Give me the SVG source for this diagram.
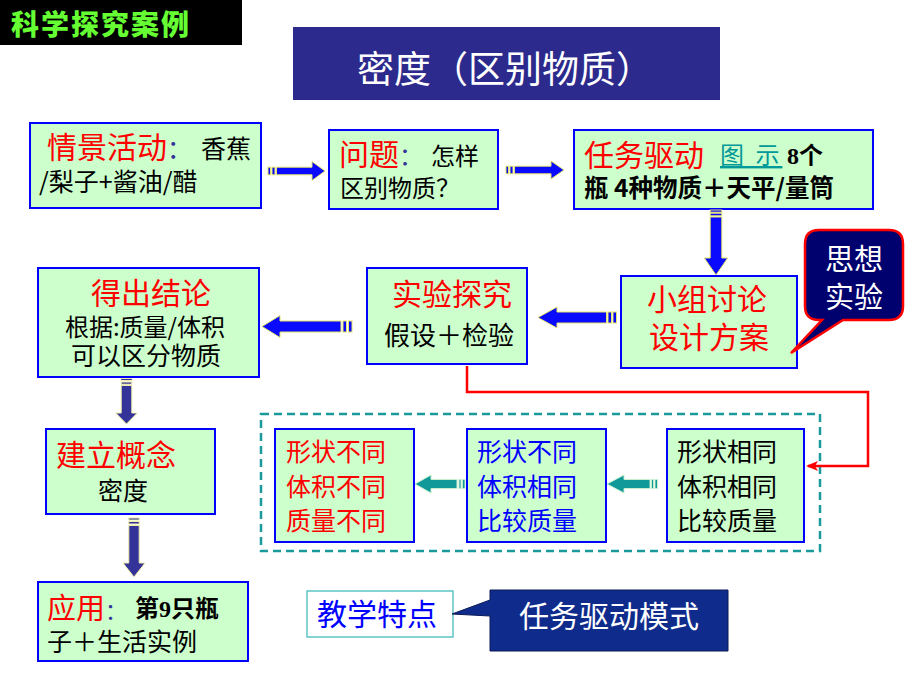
<svg xmlns="http://www.w3.org/2000/svg" width="920" height="690" viewBox="0 0 920 690">
<defs>
<style>
text { font-family: "Noto Sans CJK SC", "Noto Sans", sans-serif; }
.box { fill:#ccffcc; stroke:#0000ff; stroke-width:2; }
.red { fill:#ff0000; }
.blk { fill:#000000; }
.nav { fill:#333399; }
.wht { fill:#ffffff; }
.h30 { font-size:30px; }
.b25 { font-size:25px; }
.bold { font-weight:bold; }
.serif { font-family: "Liberation Serif", serif; font-weight:bold; }
.ar-blue { fill:#0a0aff; stroke:#e4e46a; stroke-width:1; }
.ar-navy { fill:#333399; stroke:#eeeeaa; stroke-width:1; }
.ar-teal { fill:#119999; stroke:#c4eecc; stroke-width:1; }
.c { text-anchor:middle; }
</style>
<marker id="redhead" markerUnits="userSpaceOnUse" markerWidth="14" markerHeight="12" viewBox="0 -6 14 12" refX="10" refY="0" orient="auto">
<path d="M0,-5 L12,0 L0,5 L3,0 Z" fill="#ff0000"/>
</marker>
</defs>
<rect width="920" height="690" fill="#ffffff"/>

<g id="badge">
<rect x="0" y="0" width="242" height="45" fill="#000000"/>
<text x="11" y="35" font-size="28" font-weight="900" letter-spacing="2" fill="#66ff33">科学探究案例</text>
</g>

<g id="title">
<rect x="293" y="27" width="427" height="73" fill="#2c2a8c"/>
<text x="357" y="83" font-size="37" class="wht">密度（区别物质）</text>
</g>

<g id="n-scene">
<rect class="box" x="30" y="123" width="231" height="85"/>
<text y="158"><tspan x="47" class="red h30">情景活动</tspan><tspan class="nav b25">：</tspan><tspan x="201" class="blk b25">香蕉</tspan></text>
<text x="39" y="191" class="blk b25">/梨子+酱油/醋</text>
</g>

<g id="n-question">
<rect class="box" x="329" y="130" width="169" height="79"/>
<text y="165"><tspan x="339" class="red h30">问题</tspan><tspan class="nav" font-size="24">：</tspan><tspan x="431" class="blk" font-size="24">怎样</tspan></text>
<text x="340" y="197" class="blk" font-size="24">区别物质？</text>
</g>

<g id="n-task">
<rect class="box" x="574" y="130" width="299" height="79"/>
<text x="584" y="166" class="red h30">任务驱动</text>
<text x="720" y="164" font-size="24" fill="#009999" text-decoration="underline" letter-spacing="3" xml:space="preserve">图 示</text>
<text x="787" y="164" font-size="24" class="blk bold"><tspan class="serif">8</tspan>个</text>
<text x="584" y="197" font-size="24.5" class="blk bold">瓶 4种物质＋天平/量筒</text>
</g>

<g id="n-group">
<rect class="box" x="621" y="276" width="176" height="92"/>
<text x="707" y="310" class="red h30 c">小组讨论</text>
<text x="709" y="348" class="red h30 c">设计方案</text>
</g>

<g id="n-thought">
<path d="M819,230 H889 Q903,230 903,244 V306 Q903,320 889,320 H843 L791,353 L822,320 H819 Q805,320 805,306 V244 Q805,230 819,230 Z" fill="#00006e" stroke="#ff0000" stroke-width="2.5"/>
<text x="854" y="270" font-size="29" class="wht c">思想</text>
<text x="854" y="308" font-size="29" class="wht c">实验</text>
</g>

<g id="n-experiment">
<rect class="box" x="367" y="268" width="160" height="96"/>
<text x="452" y="305" class="red h30 c">实验探究</text>
<text x="449" y="345" font-size="26" class="blk c">假设＋检验</text>
</g>

<g id="n-conclusion">
<rect class="box" x="38" y="268" width="221" height="109"/>
<text x="151" y="304" class="red h30 c">得出结论</text>
<text x="145" y="336" font-size="24" class="blk c">根据:质量/体积</text>
<text x="146" y="365" class="blk b25 c">可以区分物质</text>
</g>

<g id="n-concept">
<rect class="box" x="46" y="429" width="169" height="85"/>
<text x="56" y="466" class="red h30">建立概念</text>
<text x="123" y="500" class="blk b25 c">密度</text>
</g>

<g id="n-apply">
<rect class="box" x="38" y="582" width="210" height="79"/>
<text y="619"><tspan x="47" class="red" font-size="29">应用</tspan><tspan class="nav" font-size="22">：</tspan><tspan x="135" y="617" class="blk bold" font-size="24">第<tspan class="serif">9</tspan>只瓶</tspan></text>
<text x="47" y="651" class="blk b25">子＋生活实例</text>
</g>

<g id="n-compare">
<rect x="261" y="414" width="559" height="137" fill="none" stroke="#1a9a9a" stroke-width="2.5" stroke-dasharray="8 5"/>
</g>

<g id="n-case3">
<rect class="box" x="275" y="429" width="139" height="113"/>
<text x="286" y="461" class="red b25">形状不同</text>
<text x="286" y="496" class="red b25">体积不同</text>
<text x="286" y="530" class="red b25">质量不同</text>
</g>

<g id="n-case2">
<rect class="box" x="467" y="429" width="139" height="113"/>
<text x="477" y="461" class="b25" fill="#0000ff">形状不同</text>
<text x="477" y="496" class="b25" fill="#0000ff">体积相同</text>
<text x="477" y="530" class="b25" fill="#0000ff">比较质量</text>
</g>

<g id="n-case1">
<rect class="box" x="667" y="429" width="137" height="113"/>
<text x="677" y="461" class="blk b25">形状相同</text>
<text x="677" y="496" class="blk b25">体积相同</text>
<text x="677" y="530" class="blk b25">比较质量</text>
</g>

<g id="n-feature">
<rect x="307" y="591" width="146" height="46" fill="#ffffff" stroke="#5cc6c6" stroke-width="1.5"/>
<text x="317" y="625" class="h30" fill="#0000ff">教学特点</text>
</g>

<g id="n-mode">
<path d="M490,590 H728 V651 H490 V616 L452,614 L490,600 Z" fill="#0f2c8c" stroke="#0a1a55" stroke-width="1"/>
<text x="609" y="627" class="h30 wht c">任务驱动模式</text>
</g>

<g id="connectors">
<g class="ar-blue">
<rect x="268" y="167.2" width="2.5" height="7.6"/><rect x="272" y="167.2" width="3" height="7.6"/>
<path d="M276.5,167.2 H312 V161.5 L325,171 L312,180.5 V174.8 H276.5 Z"/>
<rect x="506" y="166.2" width="2.5" height="7.6"/><rect x="510" y="166.2" width="3" height="7.6"/>
<path d="M514.5,166.2 H551 V161 L564,170 L551,179 V173.8 H514.5 Z"/>
<rect x="710.2" y="210" width="11.6" height="2.2"/><rect x="710.2" y="213.2" width="11.6" height="2.6"/>
<path d="M710.2,217 V258 H704.3 L716,275 L727.7,258 H721.8 V217 Z"/>
<rect x="608" y="312" width="3.5" height="11"/><rect x="613" y="312" width="3.5" height="11"/>
<path d="M606.5,312 H557 V307 L538,317.5 L557,328 V323 H606.5 Z"/>
<rect x="343" y="321" width="3.5" height="11"/><rect x="348.5" y="321" width="3.5" height="11"/>
<path d="M341,321 H280 V315.5 L262,326.5 L280,337.5 V332 H341 Z"/>
</g>
<g class="ar-navy">
<rect x="121.2" y="378.5" width="10.6" height="2"/><rect x="121.2" y="382" width="10.6" height="2.2"/>
<path d="M121.2,385.5 V413 H115.7 L126.5,424 L137.3,413 H131.8 V385.5 Z"/>
<rect x="128.8" y="518" width="10.4" height="2"/><rect x="128.8" y="521.5" width="10.4" height="2.5"/>
<path d="M128.8,525.5 V563 H123 L134,577 L145,563 H139.2 V525.5 Z"/>
</g>
<g class="ar-teal">
<rect x="459" y="479.5" width="2" height="9"/><rect x="462.5" y="479.5" width="2.5" height="9"/>
<path d="M457,479.5 H431 V475 L415,484 L431,493 V488.5 H457 Z"/>
<rect x="651.5" y="479.5" width="2" height="9"/><rect x="655" y="479.5" width="2.5" height="9"/>
<path d="M650,479.5 H624 V475 L607,484 L624,493 V488.5 H650 Z"/>
</g>
<path d="M467,366 V392 H868 V466 H808" fill="none" stroke="#ff0000" stroke-width="2.5" marker-end="url(#redhead)"/>
</g>
</svg>
